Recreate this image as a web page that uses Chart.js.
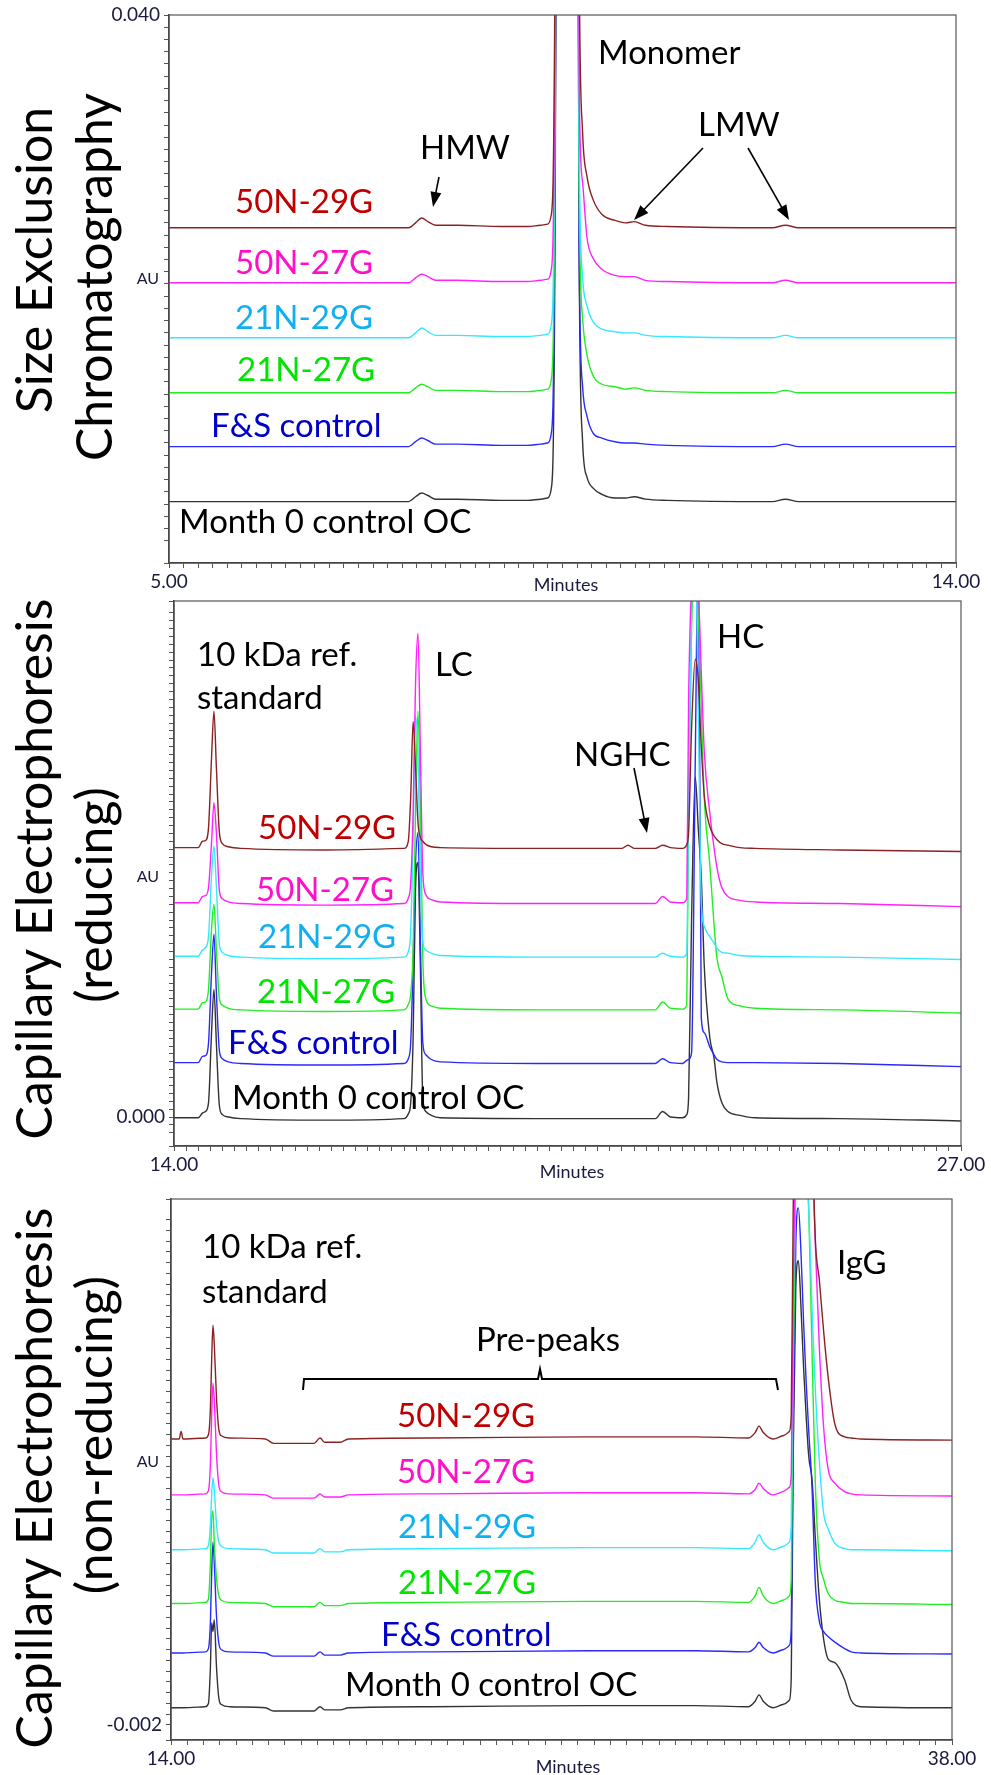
<!DOCTYPE html>
<html>
<head>
<meta charset="utf-8">
<script src="https://cdn.jsdelivr.net/npm/chart.js@4.4.1/dist/chart.umd.min.js"></script>
<style>
  body { margin: 0; background: #fff; }
  .panel { position: absolute; left: 0; width: 991px; height: 590px; }
</style>
</head>
<body>
<div class="panel" style="top:0;height:595px"><canvas id="sec"></canvas></div>
<div class="panel" style="top:595px"><canvas id="ceRed"></canvas></div>
<div class="panel" style="top:1185px"><canvas id="ceNonRed"></canvas></div>
<script>
// sample names, top trace first
const seriesNames = ['50N-29G', '50N-27G', '21N-29G', '21N-27G', 'F&S control', 'Month 0 control OC'];

// ---- Size exclusion chromatography (minutes / AU) ----
const secTime = [5.00, 6.50, 7.74, 7.82, 7.89, 7.96, 8.05, 8.30, 8.80, 9.10, 9.25, 9.33, 9.37, 9.41, 9.55, 9.69, 9.73, 9.78, 9.85, 9.95, 10.10, 10.22, 10.32, 10.45, 10.70, 11.90, 12.05, 12.20, 14.00];
const sec50N29G = [0.0226, 0.0226, 0.0226, 0.0230, 0.0234, 0.0231, 0.0228, 0.0228, 0.0227, 0.0227, 0.0228, 0.0229, 0.0236, 0.0390, 0.3500, 0.0450, 0.0304, 0.0268, 0.0249, 0.0237, 0.0232, 0.0230, 0.0231, 0.0228, 0.0227, 0.0226, 0.0228, 0.0226, 0.0226];
const sec50N27G = [0.0181, 0.0181, 0.0181, 0.0185, 0.0188, 0.0186, 0.0183, 0.0183, 0.0182, 0.0182, 0.0183, 0.0184, 0.0191, 0.0345, 0.3400, 0.0345, 0.0263, 0.0218, 0.0201, 0.0192, 0.0187, 0.0186, 0.0186, 0.0183, 0.0182, 0.0181, 0.0183, 0.0181, 0.0181];
const sec21N29G = [0.0136, 0.0136, 0.0136, 0.0140, 0.0144, 0.0141, 0.0138, 0.0138, 0.0137, 0.0137, 0.0138, 0.0139, 0.0146, 0.0300, 0.3300, 0.0300, 0.0185, 0.0162, 0.0149, 0.0143, 0.0141, 0.0140, 0.0140, 0.0138, 0.0137, 0.0136, 0.0138, 0.0136, 0.0136];
const sec21N27G = [0.0091, 0.0091, 0.0091, 0.0095, 0.0098, 0.0096, 0.0093, 0.0093, 0.0092, 0.0092, 0.0093, 0.0094, 0.0101, 0.0255, 0.3300, 0.0263, 0.0152, 0.0122, 0.0105, 0.0098, 0.0096, 0.0094, 0.0095, 0.0093, 0.0092, 0.0091, 0.0093, 0.0091, 0.0091];
const secFS = [0.0047, 0.0047, 0.0047, 0.0051, 0.0054, 0.0052, 0.0049, 0.0049, 0.0048, 0.0048, 0.0049, 0.0050, 0.0057, 0.0211, 0.3200, 0.0211, 0.0096, 0.0072, 0.0058, 0.0054, 0.0051, 0.0050, 0.0050, 0.0049, 0.0048, 0.0047, 0.0049, 0.0047, 0.0047];
const secMonth0 = [0.0002, 0.0002, 0.0002, 0.0006, 0.0009, 0.0007, 0.0004, 0.0004, 0.0003, 0.0003, 0.0004, 0.0005, 0.0012, 0.0166, 0.3200, 0.0207, 0.0051, 0.0022, 0.0013, 0.0008, 0.0005, 0.0005, 0.0006, 0.0004, 0.0003, 0.0002, 0.0004, 0.0002, 0.0002];
const secXTicks = ['5.00', '14.00'];
const secYTicks = ['0.040', '- 0.004'];

// ---- CE reducing ----
const ceRedTime = [14.00, 14.40, 14.47, 14.52, 14.57, 14.62, 14.66, 14.70, 14.75, 14.80, 14.90, 15.10, 16.50, 17.80, 17.87, 17.91, 17.95, 17.99, 18.03, 18.07, 18.11, 18.16, 18.25, 18.40, 20.00, 21.40, 21.50, 21.60, 21.95, 22.07, 22.20, 22.40, 22.47, 22.50, 22.55, 22.61, 22.66, 22.71, 22.76, 22.85, 22.92, 22.97, 23.05, 23.15, 23.35, 23.60, 25.00, 27.00];
const ceRed50N29G = [0.0342, 0.0342, 0.0350, 0.0351, 0.0367, 0.0456, 0.0515, 0.0444, 0.0361, 0.0347, 0.0343, 0.0341, 0.0339, 0.0341, 0.0350, 0.0406, 0.0502, 0.0444, 0.0374, 0.0355, 0.0350, 0.0346, 0.0343, 0.0342, 0.0341, 0.0341, 0.0345, 0.0341, 0.0341, 0.0345, 0.0342, 0.0341, 0.0346, 0.0361, 0.0494, 0.0581, 0.0555, 0.0470, 0.0407, 0.0369, 0.0357, 0.0352, 0.0347, 0.0345, 0.0342, 0.0341, 0.0339, 0.0337];
const ceRed50N27G = [0.0272, 0.0272, 0.0280, 0.0281, 0.0291, 0.0348, 0.0399, 0.0361, 0.0287, 0.0277, 0.0273, 0.0271, 0.0269, 0.0271, 0.0278, 0.0297, 0.0386, 0.0551, 0.0614, 0.0463, 0.0310, 0.0282, 0.0276, 0.0273, 0.0271, 0.0271, 0.0271, 0.0271, 0.0271, 0.0280, 0.0273, 0.0272, 0.0277, 0.0526, 0.0678, 0.0755, 0.0678, 0.0564, 0.0463, 0.0386, 0.0342, 0.0316, 0.0291, 0.0280, 0.0275, 0.0273, 0.0271, 0.0267];
const ceRed21N29G = [0.0204, 0.0204, 0.0212, 0.0215, 0.0229, 0.0306, 0.0344, 0.0293, 0.0219, 0.0209, 0.0205, 0.0203, 0.0201, 0.0203, 0.0210, 0.0236, 0.0356, 0.0509, 0.0458, 0.0306, 0.0223, 0.0212, 0.0208, 0.0205, 0.0203, 0.0203, 0.0203, 0.0203, 0.0203, 0.0208, 0.0204, 0.0203, 0.0208, 0.0395, 0.0649, 0.0737, 0.0522, 0.0274, 0.0242, 0.0229, 0.0221, 0.0214, 0.0209, 0.0208, 0.0205, 0.0204, 0.0203, 0.0200];
const ceRed21N27G = [0.0137, 0.0137, 0.0145, 0.0146, 0.0162, 0.0239, 0.0270, 0.0213, 0.0150, 0.0142, 0.0138, 0.0136, 0.0134, 0.0136, 0.0143, 0.0156, 0.0213, 0.0391, 0.0515, 0.0391, 0.0201, 0.0150, 0.0141, 0.0138, 0.0136, 0.0136, 0.0136, 0.0136, 0.0136, 0.0146, 0.0138, 0.0137, 0.0142, 0.0391, 0.0620, 0.0709, 0.0645, 0.0518, 0.0404, 0.0321, 0.0245, 0.0201, 0.0178, 0.0150, 0.0141, 0.0138, 0.0136, 0.0132];
const ceRedFS = [0.0069, 0.0069, 0.0077, 0.0078, 0.0094, 0.0183, 0.0232, 0.0158, 0.0084, 0.0074, 0.0070, 0.0068, 0.0066, 0.0068, 0.0074, 0.0094, 0.0196, 0.0323, 0.0361, 0.0221, 0.0094, 0.0079, 0.0073, 0.0070, 0.0068, 0.0068, 0.0068, 0.0068, 0.0068, 0.0074, 0.0069, 0.0068, 0.0072, 0.0073, 0.0082, 0.0450, 0.0729, 0.0126, 0.0107, 0.0089, 0.0079, 0.0073, 0.0070, 0.0069, 0.0069, 0.0069, 0.0068, 0.0064];
const ceRedMonth0 = [-0.0001, -0.0001, 0.0005, 0.0007, 0.0018, 0.0107, 0.0162, 0.0094, 0.0014, 0.0003, 0.0000, -0.0002, -0.0004, -0.0002, 0.0004, 0.0018, 0.0101, 0.0291, 0.0323, 0.0190, 0.0024, 0.0007, 0.0002, -0.0001, -0.0002, -0.0002, -0.0002, -0.0002, -0.0002, 0.0007, 0.0000, -0.0001, 0.0003, 0.0024, 0.0253, 0.0432, 0.0367, 0.0304, 0.0190, 0.0101, 0.0075, 0.0043, 0.0018, 0.0007, 0.0002, -0.0001, -0.0002, -0.0005];
const ceRedXTicks = ['14.00', '27.00'];
const ceRedYTicks = ['0.065', '0.000'];

// ---- CE non-reducing ----
const ceNonRedTime = [14.00, 14.25, 14.31, 14.37, 15.05, 15.15, 15.21, 15.25, 15.29, 15.33, 15.40, 15.47, 15.55, 15.80, 16.90, 17.15, 18.40, 18.58, 18.72, 19.20, 19.45, 22.00, 26.80, 30.10, 31.75, 31.95, 32.07, 32.20, 32.50, 32.80, 33.00, 33.06, 33.12, 33.20, 33.28, 33.36, 33.44, 33.52, 33.60, 33.70, 33.80, 33.92, 34.05, 34.20, 34.40, 34.70, 34.90, 35.20, 38.00];
const ceNonRed50N29G = [0.0246, 0.0246, 0.0253, 0.0246, 0.0247, 0.0250, 0.0274, 0.0320, 0.0352, 0.0334, 0.0283, 0.0255, 0.0249, 0.0247, 0.0246, 0.0242, 0.0242, 0.0247, 0.0243, 0.0243, 0.0246, 0.0247, 0.0248, 0.0248, 0.0247, 0.0252, 0.0258, 0.0252, 0.0246, 0.0249, 0.0253, 0.0269, 0.0460, 0.0618, 0.0692, 0.0730, 0.0758, 0.0767, 0.0711, 0.0544, 0.0432, 0.0395, 0.0348, 0.0302, 0.0260, 0.0248, 0.0247, 0.0246, 0.0245];
const ceNonRed50N27G = [0.0194, 0.0194, 0.0194, 0.0194, 0.0195, 0.0198, 0.0222, 0.0268, 0.0298, 0.0282, 0.0231, 0.0203, 0.0197, 0.0195, 0.0194, 0.0191, 0.0191, 0.0195, 0.0192, 0.0192, 0.0194, 0.0195, 0.0196, 0.0196, 0.0195, 0.0199, 0.0205, 0.0200, 0.0194, 0.0197, 0.0201, 0.0213, 0.0380, 0.0547, 0.0640, 0.0696, 0.0715, 0.0678, 0.0613, 0.0520, 0.0427, 0.0334, 0.0259, 0.0217, 0.0205, 0.0197, 0.0195, 0.0194, 0.0193];
const ceNonRed21N29G = [0.0143, 0.0143, 0.0143, 0.0143, 0.0144, 0.0147, 0.0166, 0.0194, 0.0210, 0.0199, 0.0166, 0.0150, 0.0146, 0.0144, 0.0143, 0.0140, 0.0140, 0.0144, 0.0141, 0.0141, 0.0143, 0.0144, 0.0145, 0.0145, 0.0144, 0.0150, 0.0157, 0.0150, 0.0143, 0.0146, 0.0150, 0.0166, 0.0357, 0.0534, 0.0599, 0.0608, 0.0580, 0.0515, 0.0459, 0.0366, 0.0292, 0.0227, 0.0178, 0.0162, 0.0149, 0.0144, 0.0143, 0.0143, 0.0142];
const ceNonRed21N27G = [0.0093, 0.0093, 0.0093, 0.0093, 0.0094, 0.0097, 0.0130, 0.0172, 0.0179, 0.0149, 0.0116, 0.0100, 0.0096, 0.0094, 0.0093, 0.0090, 0.0090, 0.0094, 0.0091, 0.0091, 0.0093, 0.0094, 0.0095, 0.0095, 0.0094, 0.0100, 0.0108, 0.0100, 0.0093, 0.0096, 0.0100, 0.0116, 0.0307, 0.0484, 0.0577, 0.0595, 0.0567, 0.0512, 0.0456, 0.0326, 0.0205, 0.0135, 0.0116, 0.0102, 0.0096, 0.0094, 0.0093, 0.0093, 0.0092];
const ceNonRedFS = [0.0047, 0.0047, 0.0047, 0.0047, 0.0048, 0.0051, 0.0075, 0.0121, 0.0150, 0.0131, 0.0080, 0.0056, 0.0050, 0.0048, 0.0047, 0.0044, 0.0044, 0.0048, 0.0045, 0.0045, 0.0047, 0.0048, 0.0049, 0.0049, 0.0048, 0.0052, 0.0057, 0.0052, 0.0047, 0.0050, 0.0054, 0.0070, 0.0261, 0.0428, 0.0461, 0.0419, 0.0354, 0.0298, 0.0252, 0.0200, 0.0112, 0.0077, 0.0067, 0.0062, 0.0057, 0.0051, 0.0048, 0.0047, 0.0046];
const ceNonRedMonth0 = [-0.0004, -0.0004, -0.0004, -0.0004, -0.0003, 0.0000, 0.0033, 0.0075, 0.0067, 0.0078, 0.0033, 0.0005, -0.0001, -0.0003, -0.0004, -0.0007, -0.0007, -0.0003, -0.0006, -0.0006, -0.0004, -0.0003, -0.0002, -0.0002, -0.0003, 0.0002, 0.0008, 0.0002, -0.0004, -0.0001, 0.0003, 0.0024, 0.0229, 0.0387, 0.0412, 0.0368, 0.0312, 0.0266, 0.0229, 0.0208, 0.0154, 0.0098, 0.0061, 0.0041, 0.0038, 0.0022, 0.0003, -0.0003, -0.0004];
const ceNonRedXTicks = ['14.00', '38.00'];
const ceNonRedYTicks = ['0.046', '-0.002'];

const lineColors = ['#8b2222', '#ff22ff', '#33e8ff', '#22ee22', '#2a2aff', '#333333'];
const textColors = ['#c00000', '#ff10c8', '#10b0f0', '#00e400', '#0000c8', '#000000'];

Chart.defaults.font.family = 'Lato, "Open Sans", sans-serif';

function arrow(ctx, x1, y1, x2, y2) {
  const ang = Math.atan2(y2 - y1, x2 - x1);
  ctx.beginPath();
  ctx.moveTo(x1, y1);
  ctx.lineTo(x2 - 10 * Math.cos(ang), y2 - 10 * Math.sin(ang));
  ctx.stroke();
  ctx.beginPath();
  ctx.moveTo(x2, y2);
  ctx.lineTo(x2 - 15 * Math.cos(ang) + 5.5 * Math.sin(ang), y2 - 15 * Math.sin(ang) - 5.5 * Math.cos(ang));
  ctx.lineTo(x2 - 15 * Math.cos(ang) - 5.5 * Math.sin(ang), y2 - 15 * Math.sin(ang) + 5.5 * Math.cos(ang));
  ctx.closePath();
  ctx.fill();
}

function makeDeco(d) {
  return {
    id: 'deco',
    afterDraw(chart) {
      const ctx = chart.ctx, a = chart.chartArea;
      ctx.save();
      ctx.strokeStyle = '#555';
      ctx.lineWidth = 1.2;
      ctx.strokeRect(a.left, a.top, a.right - a.left, a.bottom - a.top);

      ctx.fillStyle = '#000';
      ctx.textAlign = 'center';
      ctx.textBaseline = 'alphabetic';
      ctx.font = '50px Lato';
      d.titles.forEach(t => {
        ctx.save();
        ctx.translate(t.x, t.y);
        ctx.rotate(-Math.PI / 2);
        ctx.fillText(t.text, 0, 0);
        ctx.restore();
      });

      ctx.textBaseline = 'middle';
      d.labels.forEach((l, i) => {
        ctx.font = '33px Lato';
        ctx.fillStyle = textColors[i];
        ctx.textAlign = 'left';
        ctx.fillText(seriesNames[i], l[0], l[1]);
      });
      d.notes.forEach(n => {
        ctx.font = '33px Lato';
        ctx.fillStyle = '#000';
        ctx.textAlign = n[3] || 'left';
        ctx.fillText(n[0], n[1], n[2]);
      });
      ctx.font = '16px Lato';
      ctx.fillStyle = '#1a1a40';
      ctx.textAlign = 'right';
      ctx.fillText('AU', d.au[0], d.au[1]);
      ctx.font = '18px Lato';
      ctx.textAlign = 'center';
      ctx.fillText('Minutes', d.minutes[0], d.minutes[1]);

      ctx.strokeStyle = '#000';
      ctx.fillStyle = '#000';
      ctx.lineWidth = 1.6;
      d.arrows.forEach(r => arrow(ctx, r[0], r[1], r[2], r[3]));
      if (d.bracket) {
        ctx.lineWidth = 2;
        ctx.beginPath();
        d.bracket.forEach((p, i) => i ? ctx.lineTo(p[0], p[1]) : ctx.moveTo(p[0], p[1]));
        ctx.stroke();
      }
      ctx.restore();
    }
  };
}

function endLabel(labels) {
  const vals = labels.map(s => parseFloat(s.replace(/\s/g, '')));
  return v => {
    const i = vals.findIndex(x => Math.abs(x - v) < 1e-7);
    return i >= 0 ? labels[i] : '';
  };
}

function makeChart(id, time, series, c) {
  return new Chart(document.getElementById(id), {
    type: 'line',
    data: {
      datasets: series.map((vals, i) => ({
        label: seriesNames[i],
        data: time.map((t, k) => ({ x: t, y: vals[k] })),
        borderColor: lineColors[i],
        borderWidth: 1.4,
        pointRadius: 0,
        cubicInterpolationMode: 'monotone',
        fill: false
      }))
    },
    options: {
      responsive: true,
      maintainAspectRatio: false,
      animation: false,
      parsing: false,
      events: [],
      layout: { padding: c.pad },
      plugins: { legend: { display: false }, tooltip: { enabled: false } },
      scales: {
        x: {
          type: 'linear', min: c.xMin, max: c.xMax,
          afterFit: s => { s.height = c.xH; s.paddingLeft = 0; s.paddingRight = 0; },
          ticks: { stepSize: c.xStep, autoSkip: false, maxRotation: 0, minRotation: 0, padding: 2,
                   color: '#1a1a40', font: { size: 19 }, callback: endLabel(c.xTicks) },
          grid: { drawOnChartArea: false, tickLength: 5, color: '#555' },
          border: { color: '#333', width: 1.5 }
        },
        y: {
          type: 'linear', min: c.yMin, max: c.yMax,
          afterFit: s => { s.width = c.yW; s.paddingTop = 0; s.paddingBottom = 0; },
          ticks: { stepSize: c.yStep, autoSkip: false, padding: 4,
                   color: '#1a1a40', font: { size: 19 }, callback: endLabel(c.yTicks) },
          grid: { drawOnChartArea: false, tickLength: 5, color: '#555' },
          border: { color: '#333', width: 1.5 }
        }
      }
    },
    plugins: [makeDeco(c.deco)]
  });
}

makeChart('sec', secTime, [sec50N29G, sec50N27G, sec21N29G, sec21N27G, secFS, secMonth0], {
  xMin: 5, xMax: 14, xStep: 1 / 6, xTicks: secXTicks,
  yMin: -0.00482, yMax: 0.040, yStep: 0.001, yTicks: secYTicks,
  pad: { left: 0, top: 15, right: 35, bottom: 0 }, yW: 169, xH: 32,
  deco: {
    titles: [{ text: 'Size Exclusion', x: 52, y: 260 }, { text: 'Chromatography', x: 112, y: 277 }],
    labels: [[235, 202], [235, 263], [235, 318], [237, 370], [211, 426], [179, 522]],
    notes: [['HMW', 420, 148], ['Monomer', 598, 53], ['LMW', 698, 125]],
    arrows: [[439, 177, 433, 207], [703, 148, 634, 220], [748, 148, 789, 220]],
    au: [159, 279], minutes: [566, 585]
  }
});

makeChart('ceRed', ceRedTime, [ceRed50N29G, ceRed50N27G, ceRed21N29G, ceRed21N27G, ceRedFS, ceRedMonth0], {
  xMin: 14, xMax: 27, xStep: 0.2, xTicks: ceRedXTicks,
  yMin: -0.00368, yMax: 0.0655, yStep: 0.001, yTicks: ceRedYTicks,
  pad: { left: 0, top: 6, right: 30, bottom: 0 }, yW: 174, xH: 39,
  deco: {
    titles: [{ text: 'Capillary Electrophoresis', x: 52, y: 274 }, { text: '(reducing)', x: 112, y: 300 }],
    labels: [[258, 233], [256, 295], [258, 342], [257, 397], [228, 448], [232, 503]],
    notes: [['10 kDa ref.', 197, 60], ['standard', 197, 103], ['LC', 435, 70], ['HC', 717, 42], ['NGHC', 574, 160]],
    arrows: [[634, 173, 647, 238]],
    au: [159, 282], minutes: [572, 577]
  }
});

makeChart('ceNonRed', ceNonRedTime, [ceNonRed50N29G, ceNonRed50N27G, ceNonRed21N29G, ceNonRed21N27G, ceNonRedFS, ceNonRedMonth0], {
  xMin: 14, xMax: 38, xStep: 0.5, xTicks: ceNonRedXTicks,
  yMin: -0.0034, yMax: 0.04693, yStep: 0.001, yTicks: ceNonRedYTicks,
  pad: { left: 0, top: 14, right: 39, bottom: 0 }, yW: 171, xH: 35,
  deco: {
    titles: [{ text: 'Capillary Electrophoresis', x: 52, y: 293 }, { text: '(non-reducing)', x: 112, y: 250 }],
    labels: [[397, 231], [397, 287], [398, 342], [398, 398], [381, 450], [345, 500]],
    notes: [['10 kDa ref.', 202, 62], ['standard', 202, 107], ['Pre-peaks', 548, 155, 'center'], ['IgG', 837, 78]],
    arrows: [],
    bracket: [[303, 205], [304, 194], [538, 194], [540, 184], [542, 194], [776, 194], [778, 205]],
    au: [159, 277], minutes: [568, 582]
  }
});
</script>
</body>
</html>
